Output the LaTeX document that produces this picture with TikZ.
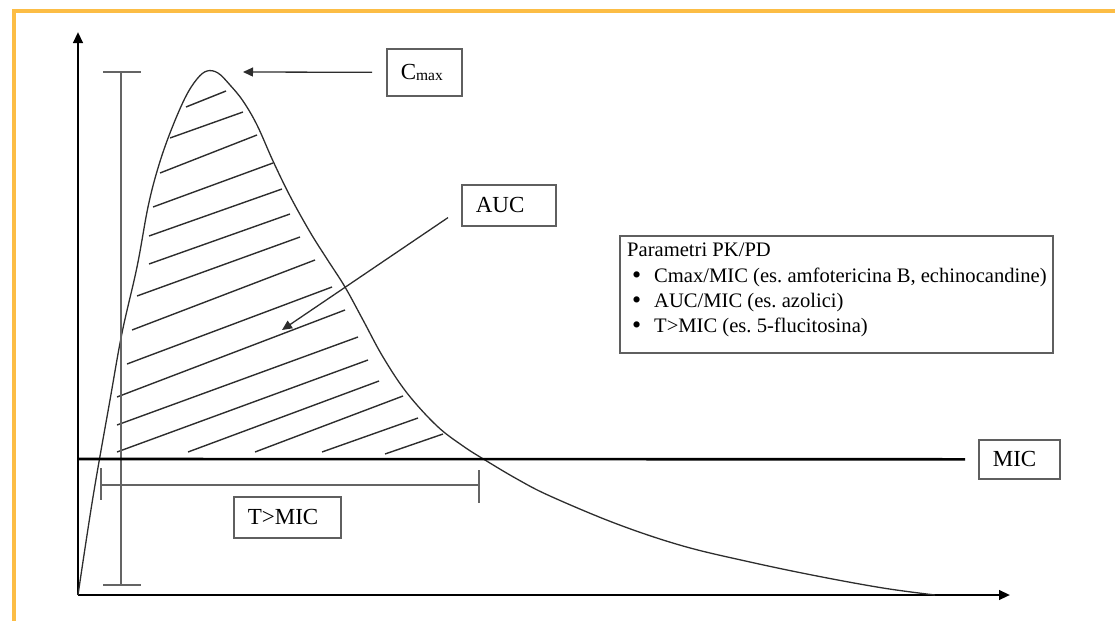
\documentclass[tikz,border=0pt]{standalone}
\usepackage{fontspec}
\setmainfont{Liberation Serif}
\usetikzlibrary{arrows.meta}
\definecolor{frameorange}{RGB}{252,189,69}
\definecolor{boxgray}{RGB}{95,95,95}
\definecolor{inkgray}{RGB}{45,45,45}
\definecolor{brackgray}{RGB}{100,100,100}
\frenchspacing
\newcommand{\legbullet}{\makebox[22pt][l]{\raisebox{-1.5pt}{\fontsize{26}{26}\selectfont\textbullet}}}
\begin{document}
\begin{tikzpicture}[x=1pt,y=-1pt,
  frame/.style={frameorange,line width=4.8pt},
  axis/.style={black,line width=2.4pt,-{Triangle[length=11pt,width=9.5pt]}},
  micline/.style={black,line width=2.6pt},
  thin/.style={inkgray,line width=1.3pt},
  hatch/.style={inkgray,line width=1.4pt},
  brack/.style={brackgray,line width=1.5pt},
  arr/.style={inkgray,line width=1.3pt,-{Triangle[length=10pt,width=9pt]}},
  lbl/.style={draw=boxgray,line width=1.6pt,font=\fontsize{23}{27}\selectfont,
    inner xsep=14pt,inner ysep=0pt,anchor=north west,align=left},
  legendbox/.style={draw=boxgray,line width=1.6pt,inner sep=0pt,anchor=north west},
  legendline/.style={font=\fontsize{20.6}{24}\selectfont,inner sep=0pt,anchor=base west}
]
\useasboundingbox (0,0) rectangle (1115,621);
% orange frame
\draw[frame] (1115,11) -- (14,11) -- (14,621);

% axes
\coordinate (O) at (78,595);
\coordinate (ytip) at (78,32);
\coordinate (xtip) at (1010,595);
\draw[axis] (O) -- (ytip);
\draw[axis] (O) -- (xtip);

% hatch lines
\foreach \a/\b/\c/\d in {186/107/226/91, 170/138/243/112, 160/173/257/135,
  153/207/273/163, 149/236/282/189, 149/264/290/214, 137/296/300/237,
  132/330/315/260, 127/364/332/287, 117/397/345/310, 117/425/358/337,
  117/452/368/360, 188/452/379/381, 255/452/403/396, 322/452/418/418,
  385/454/443/434}
  \draw[hatch] (\a,\b) -- (\c,\d);

% concentration curve
\draw[thin] plot[smooth,tension=0.6] coordinates {
  (78,595) (93,497) (110,400) (122,333) (137,267) (148,207) (158,168)
  (170,133) (185,98) (197,79) (207,71) (218,73) (230,85) (243,101)
  (257,125) (273,161) (290,196) (310,232) (327,259) (345,287) (363,320)
  (383,357) (407,393) (437,426) (463,446) (485,460) (517,479) (550,496)
  (617,524) (683,546) (750,562) (817,576) (883,588) (935,595)};

% Cmax bar
\draw[brack] (121,72) -- (121,585);
\draw[brack] (103,72) -- (141,72);
\draw[brack] (103,585) -- (141,585);

% T>MIC bracket
\draw[brack] (101,485) -- (479,485);
\draw[brack] (101,468) -- (101,500);
\draw[brack] (479,470) -- (479,503);

% labels
\node[lbl,text width=47pt,minimum height=47pt] (cmax) at (386,48)
  {C\raisebox{-1pt}{\fontsize{15.5}{15.5}\selectfont max}};
\node[lbl,text width=66pt,minimum height=41pt] (auc) at (461,184) {AUC};
\node[lbl,text width=53pt,minimum height=39pt] (mic) at (978,439) {MIC};
\node[lbl,text width=79pt,minimum height=41pt] (tmic) at (233,496) {T>MIC};

% legend
\node[legendbox,minimum width=433pt,minimum height=117pt] (legend) at (619,235) {};
\node[legendline] (leg1) at (627,256) {Parametri PK/PD};
\node[legendline] (leg2) at (632,282) {\legbullet Cmax/MIC (es. amfotericina B, echinocandine)};
\node[legendline] (leg3) at (632,307) {\legbullet AUC/MIC (es. azolici)};
\node[legendline] (leg4) at (632,332) {\legbullet T>MIC (es. 5-flucitosina)};

% MIC line
\coordinate (micstart) at (78,459);
\draw[micline] (micstart) -- ([xshift=-13pt]mic.west);

% arrows
\coordinate (cmaxtip) at (243,72);
\coordinate (auctip) at (282,330);
\draw[arr] ([xshift=-14pt]cmax.west) -- (cmaxtip);
\draw[arr] ([xshift=-13pt,yshift=9pt]auc.south west) -- (auctip);
\end{tikzpicture}
\end{document}
